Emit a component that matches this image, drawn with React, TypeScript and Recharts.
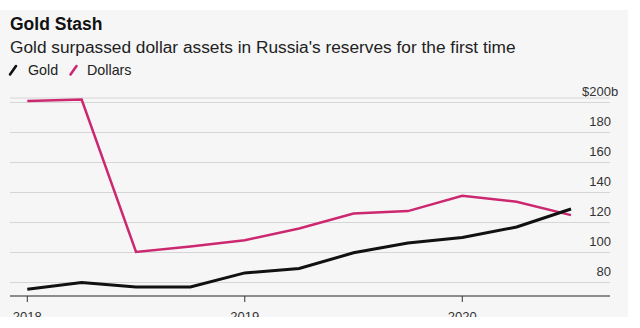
import { LineChart, Line, XAxis, YAxis, CartesianGrid } from 'recharts';

const quarters = ['2018-01', '2018-04', '2018-07', '2018-10', '2019-01', '2019-04', '2019-07', '2019-10', '2020-01', '2020-04', '2020-07'];
const gold = [75.5, 80, 77, 77, 86.4, 89.3, 99.8, 106.4, 110, 117, 129];
const dollars = [201, 202, 100.4, 104, 108.2, 116, 126, 127.6, 137.8, 133.8, 124.9];
const yearTicks = [0, 4, 8];
const yearLabels = ['2018', '2019', '2020'];
const valueTicks = [80, 100, 120, 140, 160, 180, 200];

const GOLD_COLOR = '#111111';
const DOLLAR_COLOR = '#cc2870';
const FONT = '"Liberation Sans", Arial, Helvetica, sans-serif';

const data = quarters.map((q, i) => ({ i, quarter: q, gold: gold[i], dollars: dollars[i] }));

function ValueTick({ x, y, payload }: any) {
  const v = payload.value;
  const isTop = v === valueTicks[valueTicks.length - 1];
  return (
    <g>
      <text x={x + 1} y={y - 7} textAnchor="end" fontSize={13} fill="#333" fontFamily={FONT}>
        {isTop ? `$${v}` : v}
      </text>
      {isTop && (
        <text x={x + 1} y={y - 7} textAnchor="start" fontSize={13} fill="#333" fontFamily={FONT}>
          b
        </text>
      )}
    </g>
  );
}

function YearTick({ x, y, payload }: any) {
  const idx = yearTicks.indexOf(payload.value);
  return (
    <text x={x} y={y + 19} textAnchor="middle" fontSize={13} fill="#333" fontFamily={FONT}>
      {yearLabels[idx]}
    </text>
  );
}

function Slash({ x, color }: { x: number; color: string }) {
  return <line x1={x} y1={74.5} x2={x + 6} y2={66} stroke={color} strokeWidth={2.6} strokeLinecap="round" />;
}

export default function App() {
  return (
    <div style={{ position: 'absolute', left: 0, top: 0, width: 640, height: 328, background: '#fff', fontFamily: FONT }}>
      <div style={{ position: 'absolute', left: 0, top: 10, width: 628, height: 307, background: '#f6f6f6', overflow: 'hidden' }}>
        <LineChart
          width={628}
          height={307}
          data={data}
          margin={{ top: 88, right: 0, bottom: 0, left: 10 }}
          style={{ position: 'absolute', left: 0, top: 0 }}
        >
          <CartesianGrid horizontal vertical={false} stroke="#d6d6d6" strokeWidth={1} />
          <XAxis
            dataKey="i"
            type="number"
            domain={[-0.318, 10.717]}
            ticks={yearTicks}
            tick={<YearTick />}
            tickSize={6}
            tickMargin={0}
            axisLine={{ stroke: '#333', strokeWidth: 1 }}
            tickLine={{ stroke: '#333', strokeWidth: 1 }}
            height={21}
            allowDataOverflow
          />
          <YAxis
            orientation="right"
            type="number"
            domain={[71, 203]}
            ticks={valueTicks}
            tick={<ValueTick />}
            tickSize={0}
            tickMargin={0}
            axisLine={false}
            tickLine={false}
            width={18}
            allowDataOverflow
          />
          <Line type="linear" dataKey="dollars" stroke={DOLLAR_COLOR} strokeWidth={2.5} dot={false} isAnimationActive={false} />
          <Line type="linear" dataKey="gold" stroke={GOLD_COLOR} strokeWidth={3} dot={false} isAnimationActive={false} />
        </LineChart>
      </div>
      <svg width={640} height={90} style={{ position: 'absolute', left: 0, top: 0 }}>
        <text x={10} y={30} fontSize={17.5} fontWeight="bold" fill="#111" fontFamily={FONT}>
          Gold Stash
        </text>
        <text x={10} y={52.5} fontSize={17.3} fill="#222" fontFamily={FONT}>
          Gold surpassed dollar assets in Russia's reserves for the first time
        </text>
        <Slash x={10} color={GOLD_COLOR} />
        <text x={28} y={74.5} fontSize={14.3} fill="#222" fontFamily={FONT}>
          Gold
        </text>
        <Slash x={70.5} color={DOLLAR_COLOR} />
        <text x={87} y={74.5} fontSize={14.3} fill="#222" fontFamily={FONT}>
          Dollars
        </text>
      </svg>
    </div>
  );
}
